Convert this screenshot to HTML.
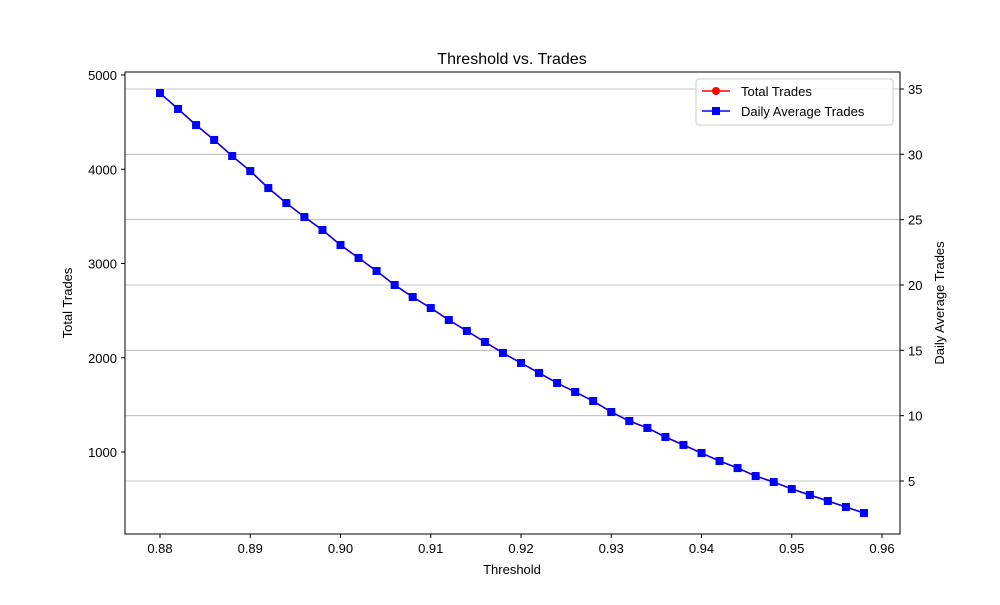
<!DOCTYPE html>
<html><head><meta charset="utf-8"><style>
html,body{margin:0;padding:0;background:#fff;}
svg text{font-family:"Liberation Sans","DejaVu Sans",sans-serif;fill:#000;}
</style></head><body>
<svg id="chart" width="1000" height="600" viewBox="0 0 1000 600" xmlns="http://www.w3.org/2000/svg">
<rect x="0" y="0" width="1000" height="600" fill="#fff"/>
<g id="grid"></g><g id="series"></g>
<rect x="125" y="72" width="775" height="462" fill="none" stroke="#000" stroke-width="1"/>
<g id="axes"></g>
<text x="512" y="64" text-anchor="middle" font-size="16">Threshold vs. Trades</text>
<text x="512" y="574" text-anchor="middle" font-size="13">Threshold</text>
<text x="0" y="0" transform="translate(72,303) rotate(-90)" text-anchor="middle" font-size="13">Total Trades</text>
<text x="0" y="0" transform="translate(944,303) rotate(-90)" text-anchor="middle" font-size="13">Daily Average Trades</text>
<g>
<rect x="696" y="79" width="197" height="46" rx="3" fill="#fff" fill-opacity="0.8" stroke="#ccc"/>
<g>
<line x1="702" y1="91" x2="730" y2="91" stroke="red" stroke-width="1.5"/><circle cx="716" cy="91" r="4" fill="red"/>
<text x="741" y="96" font-size="13">Total Trades</text></g>
<g>
<line x1="702" y1="111" x2="730" y2="111" stroke="blue" stroke-width="1.5"/><rect x="712" y="107" width="8" height="8" fill="blue"/>
<text x="741" y="116" font-size="13">Daily Average Trades</text></g>
</g>
</svg>
<script>
const thresholds=[0.880,0.882,0.884,0.886,0.888,0.890,0.892,0.894,0.896,0.898,0.900,0.902,0.904,0.906,0.908,0.910,0.912,0.914,0.916,0.918,0.920,0.922,0.924,0.926,0.928,0.930,0.932,0.934,0.936,0.938,0.940,0.942,0.944,0.946,0.948,0.950,0.952,0.954,0.956,0.958];
const totalTrades=[4809,4639,4469,4310,4141,3981,3801,3642,3493,3355,3196,3058,2920,2772,2645,2528,2401,2284,2167,2050,1944,1838,1732,1637,1541,1424,1329,1255,1159,1074,989,905,830,745,682,607,544,480,416,353];
const dailyTrades=[34.69,33.47,32.24,31.10,29.87,28.72,27.42,26.27,25.20,24.21,23.06,22.07,21.07,20.00,19.08,18.24,17.32,16.48,15.64,14.80,14.03,13.27,12.50,11.81,11.12,10.28,9.59,9.06,8.37,7.76,7.14,6.53,5.99,5.38,4.92,4.39,3.93,3.47,3.01,2.55];
const xTicks=[0.88,0.89,0.90,0.91,0.92,0.93,0.94,0.95,0.96];
const leftTicks=[1000,2000,3000,4000,5000];
const rightTicks=[5,10,15,20,25,30,35];
const NS="http://www.w3.org/2000/svg";
const xS=v=>160+(v-0.88)*9025;
const yL=v=>452-(v-1000)*0.09425;
const yR=v=>481-(v-5)*13.067;
function mk(tag,attrs,parent){const e=document.createElementNS(NS,tag);for(const k in attrs)e.setAttribute(k,attrs[k]);parent.appendChild(e);return e;}
const grid=document.getElementById('grid'),axes=document.getElementById('axes'),series=document.getElementById('series');
xTicks.forEach(t=>{const x=xS(t);
 const l=mk('line',{x1:x,x2:x,y1:534,y2:538,stroke:'#000'},axes);
 
 const tx=mk('text',{x:x,y:553,'text-anchor':'middle','font-size':13},axes);tx.textContent=t.toFixed(2);
 });
leftTicks.forEach(t=>{const y=yL(t);
 mk('line',{x1:121,x2:125,y1:y,y2:y,stroke:'#000'},axes);
 const tx=mk('text',{x:117,y:y+5,'text-anchor':'end','font-size':13},axes);tx.textContent=t;
 });
rightTicks.forEach(t=>{const y=yR(t);
 const g=mk('line',{x1:125,x2:900,y1:y,y2:y,stroke:'#b0b0b0','stroke-width':0.8},grid);
 
 mk('line',{x1:900,x2:904,y1:y,y2:y,stroke:'#000'},axes);
 const tx=mk('text',{x:908,y:y+5,'font-size':13},axes);tx.textContent=t;
 });
const pT=thresholds.map((t,i)=>xS(t)+','+yL(totalTrades[i])).join(' ');
const lt=mk('polyline',{points:pT,fill:'none',stroke:'red','stroke-width':1.5},series);

thresholds.forEach((t,i)=>{const c=mk('circle',{cx:xS(t),cy:yL(totalTrades[i]),r:4,fill:'red'},series);
 });
const pD=thresholds.map((t,i)=>xS(t)+','+yR(dailyTrades[i])).join(' ');
const ld=mk('polyline',{points:pD,fill:'none',stroke:'blue','stroke-width':1.5},series);

thresholds.forEach((t,i)=>{const r=mk('rect',{x:xS(t)-4,y:yR(dailyTrades[i])-4,width:8,height:8,fill:'blue'},series);
 });
</script>
</body></html>
